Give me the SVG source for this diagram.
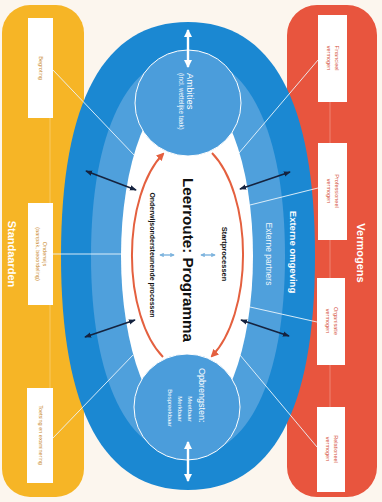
<svg xmlns="http://www.w3.org/2000/svg" width="382" height="502" viewBox="0 0 382 502">
<defs>
<style>
text{font-family:"Liberation Sans",Arial,sans-serif}
.lbl{fill:#fff;font-weight:bold}
.box{fill:#fff}
.ytx{fill:#c98a2e;font-size:5.5px}
.rtx{fill:#d4503a;font-size:5.5px}
.ray{stroke:#eaf5fc;stroke-width:1;fill:none;opacity:.9}
.faint{stroke:#fff;stroke-width:.7;opacity:.4}
.blk{stroke:#15233f;stroke-width:1.6;marker-start:url(#ab);marker-end:url(#ab)}
.wht{stroke:#fff;stroke-width:2.4;marker-start:url(#aw);marker-end:url(#aw)}
.lbu{stroke:#7db4de;stroke-width:1.4;marker-start:url(#al);marker-end:url(#al)}
.red{stroke:#e4603f;stroke-width:2;fill:none;marker-end:url(#ar)}
.ctr{fill:#111;font-weight:bold}
.ct{fill:#fff}
</style>
<marker id="ab" viewBox="0 0 8 6" refX="7" refY="3" markerWidth="7" markerHeight="6" markerUnits="userSpaceOnUse" orient="auto-start-reverse"><path d="M0,0L8,3L0,6z" fill="#15233f"/></marker>
<marker id="aw" viewBox="0 0 8 8" refX="7" refY="4" markerWidth="8" markerHeight="8" markerUnits="userSpaceOnUse" orient="auto-start-reverse"><path d="M0,0L8,4L0,8z" fill="#fff"/></marker>
<marker id="ar" viewBox="0 0 8 8" refX="6" refY="4" markerWidth="8" markerHeight="8" markerUnits="userSpaceOnUse" orient="auto"><path d="M0,0L8,4L0,8z" fill="#e4603f"/></marker>
<marker id="al" viewBox="0 0 6 6" refX="5" refY="3" markerWidth="4.5" markerHeight="4.5" markerUnits="userSpaceOnUse" orient="auto-start-reverse"><path d="M0,0L6,3L0,6z" fill="#7db4de"/></marker>
</defs>
<rect width="382" height="502" fill="#fcf6ee"/>

<g id="standaarden">
<rect x="2" y="5" width="82" height="492" rx="28" fill="#f6b526"/>
<line class="faint" x1="50" y1="118" x2="50" y2="203"/>
<line class="faint" x1="50" y1="305" x2="50" y2="388"/>
<text class="lbl" font-size="11" text-anchor="middle" transform="translate(8,254) rotate(90)">Standaarden</text>
</g>

<g id="vermogens">
<rect x="287" y="5" width="90" height="492" rx="30" fill="#e8553e"/>
<line class="faint" x1="330" y1="102" x2="330" y2="143"/>
<line class="faint" x1="330" y1="240" x2="330" y2="278"/>
<line class="faint" x1="330" y1="365" x2="330" y2="407"/>
<text class="lbl" font-size="11" text-anchor="middle" transform="translate(357,253) rotate(90)">Vermogens</text>
</g>

<g id="omgeving">
<path d="M188 22C272 22 315 101 315 256C315 411 272 490 188 490C104 490 61 411 61 256C61 101 104 22 188 22Z" fill="#1b88d2"/>
<path d="M188 56C248 56 285 132 285 256C285 380 248 456 188 456C128 456 91 380 91 256C91 132 128 56 188 56Z" fill="#4fa0dc"/>
<text class="ct" font-size="9.5" font-weight="bold" text-anchor="middle" transform="translate(290,252) rotate(90)">Externe omgeving</text>
<text class="ct" font-size="8.5" text-anchor="middle" opacity="0.9" transform="translate(266,254) rotate(90)">Externe partners</text>
</g>

<g id="programma">
<ellipse cx="187" cy="256" rx="66" ry="170" fill="#fff"/>
<text class="ctr" font-size="15" text-anchor="middle" textLength="164" lengthAdjust="spacingAndGlyphs" transform="translate(183,260) rotate(90)">Leerroute: Programma</text>
<text class="ctr" font-size="7.5" text-anchor="middle" transform="translate(222,254) rotate(90)">Startprocessen</text>
<text class="ctr" font-size="7" text-anchor="middle" transform="translate(150,255) rotate(90)">Onderwijsondersteunende processen</text>
</g>

<g id="ambities">
<circle cx="188" cy="103" r="53" fill="#4b9ddb" stroke="#fff" stroke-width="1"/>
<text class="ct" font-size="9.5" transform="translate(187,73) rotate(90)">Ambities</text>
<text class="ct" font-size="6.3" transform="translate(179,73) rotate(90)">(incl. wettelijke taak)</text>
</g>

<g id="opbrengsten">
<circle cx="187" cy="407" r="53" fill="#4b9ddb" stroke="#fff" stroke-width="1"/>
<text class="ct" font-size="9" transform="translate(199,368) rotate(90)">Opbrengsten:</text>
<text class="ct" font-size="6" text-anchor="middle" transform="translate(188,409) rotate(90)">Meetbaar</text>
<text class="ct" font-size="6" text-anchor="middle" transform="translate(178,409) rotate(90)">Merkbaar</text>
<text class="ct" font-size="6" text-anchor="middle" transform="translate(168,408) rotate(90)">Bespreekbaar</text>
</g>

<g id="connectors">
<line class="ray" x1="53" y1="70" x2="134" y2="155"/>
<line class="ray" x1="53" y1="254" x2="121" y2="254"/>
<line class="ray" x1="53" y1="438" x2="133" y2="355"/>
<line class="ray" x1="318" y1="60" x2="239" y2="153"/>
<line class="ray" x1="318" y1="188" x2="250" y2="205"/>
<line class="ray" x1="317" y1="322" x2="250" y2="307"/>
<line class="ray" x1="317" y1="447" x2="240" y2="355"/>
<line class="blk" x1="86" y1="171" x2="136" y2="190"/>
<line class="blk" x1="240" y1="189" x2="290" y2="172"/>
<line class="blk" x1="85" y1="337" x2="135" y2="320"/>
<line class="blk" x1="241" y1="320" x2="289" y2="336"/>
<line class="wht" x1="188" y1="30" x2="188" y2="67"/>
<line class="wht" x1="188" y1="442" x2="188" y2="481"/>
<line class="lbu" x1="160" y1="255" x2="174" y2="255"/>
<line class="lbu" x1="201" y1="255" x2="215" y2="255"/>
<path class="red" d="M163 357A57 114 0 0 1 163 154"/>
<path class="red" d="M212 153A57 114 0 0 1 212 356"/>
</g>

<g id="begroting">
<rect class="box" x="28" y="18" width="25" height="100"/>
<text class="ytx" text-anchor="middle" transform="translate(38.5,68) rotate(90)">Begroting</text>
</g>
<g id="onderwijs">
<rect class="box" x="28" y="203" width="25" height="102"/>
<text class="ytx" text-anchor="middle" transform="translate(43,254) rotate(90)"><tspan x="0">Onderwijs</tspan><tspan x="0" dy="7">(aanpak, beoordeling)</tspan></text>
</g>
<g id="toetsing">
<rect class="box" x="27" y="388" width="26" height="95"/>
<text class="ytx" text-anchor="middle" transform="translate(38.5,435) rotate(90)">Toetsing en examinering</text>
</g>

<g id="financieel">
<rect class="box" x="318" y="15" width="29" height="87"/>
<text class="rtx" text-anchor="middle" transform="translate(335,58) rotate(90)"><tspan x="0">Financieel</tspan><tspan x="0" dy="8">vermogen</tspan></text>
</g>
<g id="professioneel">
<rect class="box" x="318" y="143" width="29" height="97"/>
<text class="rtx" text-anchor="middle" transform="translate(335,191) rotate(90)"><tspan x="0">Professioneel</tspan><tspan x="0" dy="8">vermogen</tspan></text>
</g>
<g id="organisatie">
<rect class="box" x="317" y="278" width="28" height="87"/>
<text class="rtx" text-anchor="middle" transform="translate(334,321) rotate(90)"><tspan x="0">Organisatie</tspan><tspan x="0" dy="8">vermogen</tspan></text>
</g>
<g id="relationeel">
<rect class="box" x="317" y="407" width="28" height="85"/>
<text class="rtx" text-anchor="middle" transform="translate(334,449) rotate(90)"><tspan x="0">Relationeel</tspan><tspan x="0" dy="8">vermogen</tspan></text>
</g>
</svg>
